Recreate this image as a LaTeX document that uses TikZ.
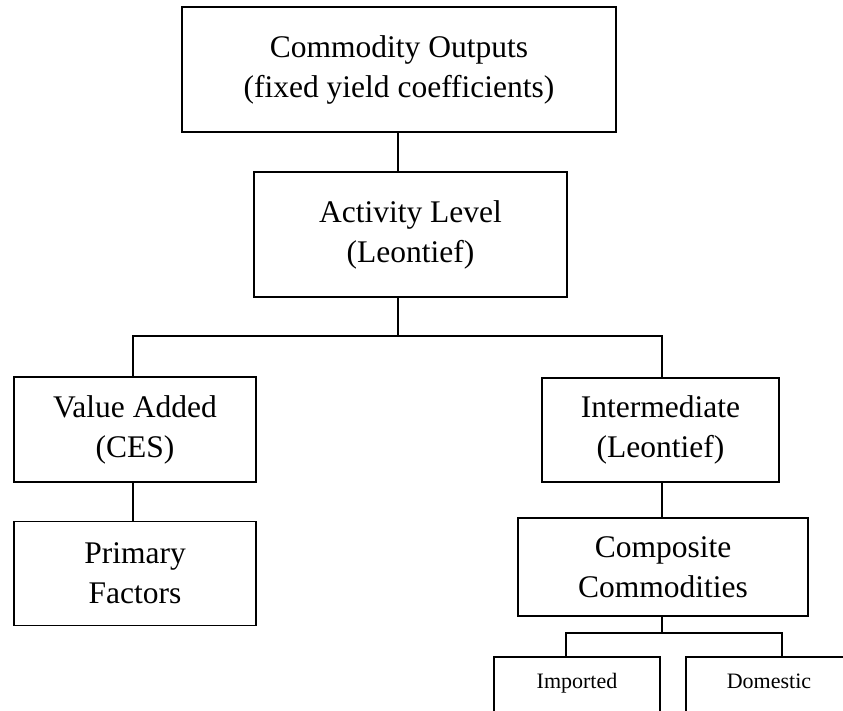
\documentclass[tikz,border=0pt]{standalone}
\usepackage{fontspec}
\setmainfont{Liberation Serif}
\usetikzlibrary{calc}
\tikzset{
  box/.style={draw, line width=1.7pt, rectangle, inner sep=0pt, align=center,
    font=\fontsize{31.5}{40}\selectfont},
  smallbox/.style={draw, line width=1.7pt, rectangle, inner sep=0pt, anchor=north,
    minimum width=166pt, minimum height=90pt},
  smalltext/.style={inner sep=0pt, anchor=base, font=\fontsize{22}{26}\selectfont},
  wire/.style={line width=1.7pt}
}
\begin{document}
\begin{tikzpicture}[x=1pt,y=-1pt]
\useasboundingbox (0,0) rectangle (843,711);
\clip (0,0) rectangle (843,711);
% boxes
\node[box, minimum width=434pt, minimum height=125pt] (top) at (399,69.5) {Commodity Outputs\\(fixed yield coefficients)};
\node[box, minimum width=313pt, minimum height=125pt] (act) at (410.5,234.5) {Activity Level\\(Leontief)};
\node[box, minimum width=242pt, minimum height=105pt] (va) at (135,429.5) {Value Added\\(CES)};
\node[box, minimum width=242pt, minimum height=104pt] (pf) at (135,573.5) {Primary\\Factors};
\node[box, minimum width=237pt, minimum height=104pt] (im) at (660.5,430) {Intermediate\\(Leontief)};
\node[box, minimum width=290pt, minimum height=98pt] (cc) at (663,567) {Composite\\Commodities};
\node[smallbox] (imp) at (577,656) {};
\node[smallbox] (dom) at (769,656) {};
\node[smalltext] (impt) at ($(imp.north)+(0,32)$) {Imported};
\node[smalltext] (domt) at ($(dom.north)+(0,32)$) {Domestic};
% junctions
\coordinate (j1) at (398,336);
\coordinate (jl) at (133,336);
\coordinate (jr) at (662,336);
\coordinate (j2) at (662,633);
\coordinate (j2l) at (566,633);
\coordinate (j2r) at (782,633);
% connectors
\draw[wire] (top.south -| j1) -- (act.north -| j1);
\draw[wire] (act.south -| j1) -- (j1);
\draw[wire] (jl |- va.north) -- (jl) -- (jr) -- (jr |- im.north);
\draw[wire] (va.south -| jl) -- (pf.north -| jl);
\draw[wire] (im.south -| jr) -- (cc.north -| jr);
\draw[wire] (cc.south -| j2) -- (j2);
\draw[wire] (j2l |- imp.north) -- (j2l) -- (j2r) -- (j2r |- dom.north);
\end{tikzpicture}
\end{document}
